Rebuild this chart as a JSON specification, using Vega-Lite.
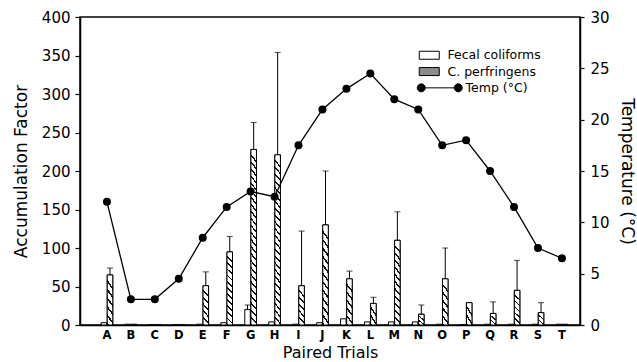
{
  "$schema": "https://vega.github.io/schema/vega-lite/v6.json",
  "width": 500,
  "height": 308,
  "autosize": "none",
  "padding": {"left": 80, "top": 17, "right": 57, "bottom": 37},
  "background": "white",
  "config": {
    "font": "DejaVu Sans",
    "view": {"stroke": "black", "strokeWidth": 1.5},
    "axis": {"grid": false, "domainColor": "black", "domainWidth": 1.5, "tickColor": "black", "tickWidth": 1.2, "labelColor": "black", "titleColor": "black", "titleFontWeight": "normal", "labelFont": "DejaVu Sans", "titleFont": "DejaVu Sans"},
    "legend": {
      "orient": "none", "legendX": 343, "legendY": 32, "padding": 0,
      "symbolSize": 100, "symbolStrokeColor": "black", "symbolStrokeWidth": 1,
      "labelFont": "DejaVu Sans", "labelFontSize": 12.5, "labelColor": "black", "labelOffset": 12, "rowPadding": 3.3
    }
  },
  "datasets": {
    "bars": [
      {"trial": "A", "series": "Fecal coliforms", "value": 3},
      {"trial": "A", "series": "C. perfringens", "value": 65, "hi": 74},
      {"trial": "B", "series": "Fecal coliforms", "value": 1},
      {"trial": "B", "series": "C. perfringens", "value": 1},
      {"trial": "C", "series": "Fecal coliforms", "value": 0.5},
      {"trial": "C", "series": "C. perfringens", "value": 0.5},
      {"trial": "D", "series": "Fecal coliforms", "value": 0.5},
      {"trial": "D", "series": "C. perfringens", "value": 0.5},
      {"trial": "E", "series": "Fecal coliforms", "value": 1},
      {"trial": "E", "series": "C. perfringens", "value": 51, "hi": 69},
      {"trial": "F", "series": "Fecal coliforms", "value": 3},
      {"trial": "F", "series": "C. perfringens", "value": 95, "hi": 115},
      {"trial": "G", "series": "Fecal coliforms", "value": 20, "hi": 26},
      {"trial": "G", "series": "C. perfringens", "value": 228, "hi": 263},
      {"trial": "H", "series": "Fecal coliforms", "value": 4},
      {"trial": "H", "series": "C. perfringens", "value": 221, "hi": 354},
      {"trial": "I", "series": "Fecal coliforms", "value": 1},
      {"trial": "I", "series": "C. perfringens", "value": 51, "hi": 122},
      {"trial": "J", "series": "Fecal coliforms", "value": 3},
      {"trial": "J", "series": "C. perfringens", "value": 130, "hi": 200},
      {"trial": "K", "series": "Fecal coliforms", "value": 8},
      {"trial": "K", "series": "C. perfringens", "value": 60, "hi": 70},
      {"trial": "L", "series": "Fecal coliforms", "value": 4},
      {"trial": "L", "series": "C. perfringens", "value": 28, "hi": 36},
      {"trial": "M", "series": "Fecal coliforms", "value": 4},
      {"trial": "M", "series": "C. perfringens", "value": 110, "hi": 147},
      {"trial": "N", "series": "Fecal coliforms", "value": 4},
      {"trial": "N", "series": "C. perfringens", "value": 14, "hi": 26},
      {"trial": "O", "series": "Fecal coliforms", "value": 1},
      {"trial": "O", "series": "C. perfringens", "value": 60, "hi": 100},
      {"trial": "P", "series": "Fecal coliforms", "value": 0.5},
      {"trial": "P", "series": "C. perfringens", "value": 29},
      {"trial": "Q", "series": "Fecal coliforms", "value": 1},
      {"trial": "Q", "series": "C. perfringens", "value": 15, "hi": 30},
      {"trial": "R", "series": "Fecal coliforms", "value": 1},
      {"trial": "R", "series": "C. perfringens", "value": 45, "hi": 84},
      {"trial": "S", "series": "Fecal coliforms", "value": 1},
      {"trial": "S", "series": "C. perfringens", "value": 16, "hi": 29},
      {"trial": "T", "series": "Fecal coliforms", "value": 1},
      {"trial": "T", "series": "C. perfringens", "value": 1}
    ],
    "temp": [
      {"trial": "A", "temp": 12}, {"trial": "B", "temp": 2.5}, {"trial": "C", "temp": 2.5},
      {"trial": "D", "temp": 4.5}, {"trial": "E", "temp": 8.5}, {"trial": "F", "temp": 11.5},
      {"trial": "G", "temp": 13}, {"trial": "H", "temp": 12.5}, {"trial": "I", "temp": 17.5},
      {"trial": "J", "temp": 21}, {"trial": "K", "temp": 23}, {"trial": "L", "temp": 24.5},
      {"trial": "M", "temp": 22}, {"trial": "N", "temp": 21}, {"trial": "O", "temp": 17.5},
      {"trial": "P", "temp": 18}, {"trial": "Q", "temp": 15}, {"trial": "R", "temp": 11.5},
      {"trial": "S", "temp": 7.5}, {"trial": "T", "temp": 6.5}
    ]
  },
  "encoding": {
    "x": {
      "field": "trial", "type": "nominal", "title": "Paired Trials",
      "scale": {"paddingInner": 0, "paddingOuter": 0.44, "align": 0.71},
      "axis": {"labelAngle": 0, "ticks": false, "labelFontWeight": "bold", "labelFontSize": 11.5, "labelPadding": 4, "titleFontSize": 16, "titlePadding": 4}
    }
  },
  "layer": [
    {
      "data": {"name": "bars"},
      "encoding": {
        "xOffset": {"field": "series", "type": "nominal", "scale": {"domain": ["Fecal coliforms", "C. perfringens"], "paddingInner": 0.1, "paddingOuter": 1}},
        "y": {
          "field": "value", "type": "quantitative", "title": "Accumulation Factor",
          "scale": {"domain": [0, 400]},
          "axis": {"values": [0, 50, 100, 150, 200, 250, 300, 350, 400], "tickSize": 5, "labelPadding": 5, "labelFontSize": 15, "titleFontSize": 17, "titlePadding": 11}
        }
      },
      "layer": [
        {
          "mark": {"type": "bar", "stroke": "black", "strokeWidth": 1},
          "encoding": {
            "fill": {
              "field": "series", "type": "nominal",
              "scale": {"domain": ["Fecal coliforms", "C. perfringens", "Temp (°C)"], "range": ["white", "#8c8c8c", "black"]},
              "legend": {
                "title": null,
                "encode": {
                  "symbols": {"update": {"shape": {"signal": "datum.value === 'Temp (°C)' ? 'M-2.4,0a0.8,0.8 0 1,0 1.6,0a0.8,0.8 0 1,0 -1.6,0Z M-0.8,0H5 M5,0a0.8,0.8 0 1,0 1.6,0a0.8,0.8 0 1,0 -1.6,0Z' : 'M-2,-0.8H2V0.8H-2Z'"}}},
                  "labels": {"update": {"dx": {"signal": "datum.value === 'Temp (°C)' ? 18 : 0"}}}
                }
              }
            }
          }
        },
        {
          "transform": [{"filter": "datum.series === 'C. perfringens' && datum.value >= 150"}],
          "mark": {"type": "bar", "stroke": "black", "strokeWidth": 1, "fill": {"gradient": "linear", "x1": 0.038, "y1": 0, "x2": 0, "y2": 1, "stops": [
            {"offset": 0, "color": "#fff"}, {"offset": 0.028, "color": "#fff"}, {"offset": 0.028, "color": "#111"}, {"offset": 0.04, "color": "#111"},
            {"offset": 0.04, "color": "#fff"}, {"offset": 0.068, "color": "#fff"}, {"offset": 0.068, "color": "#111"}, {"offset": 0.08, "color": "#111"},
            {"offset": 0.08, "color": "#fff"}, {"offset": 0.108, "color": "#fff"}, {"offset": 0.108, "color": "#111"}, {"offset": 0.12, "color": "#111"},
            {"offset": 0.12, "color": "#fff"}, {"offset": 0.148, "color": "#fff"}, {"offset": 0.148, "color": "#111"}, {"offset": 0.16, "color": "#111"},
            {"offset": 0.16, "color": "#fff"}, {"offset": 0.188, "color": "#fff"}, {"offset": 0.188, "color": "#111"}, {"offset": 0.2, "color": "#111"},
            {"offset": 0.2, "color": "#fff"}, {"offset": 0.228, "color": "#fff"}, {"offset": 0.228, "color": "#111"}, {"offset": 0.24, "color": "#111"},
            {"offset": 0.24, "color": "#fff"}, {"offset": 0.268, "color": "#fff"}, {"offset": 0.268, "color": "#111"}, {"offset": 0.28, "color": "#111"},
            {"offset": 0.28, "color": "#fff"}, {"offset": 0.308, "color": "#fff"}, {"offset": 0.308, "color": "#111"}, {"offset": 0.32, "color": "#111"},
            {"offset": 0.32, "color": "#fff"}, {"offset": 0.348, "color": "#fff"}, {"offset": 0.348, "color": "#111"}, {"offset": 0.36, "color": "#111"},
            {"offset": 0.36, "color": "#fff"}, {"offset": 0.388, "color": "#fff"}, {"offset": 0.388, "color": "#111"}, {"offset": 0.4, "color": "#111"},
            {"offset": 0.4, "color": "#fff"}, {"offset": 0.428, "color": "#fff"}, {"offset": 0.428, "color": "#111"}, {"offset": 0.44, "color": "#111"},
            {"offset": 0.44, "color": "#fff"}, {"offset": 0.468, "color": "#fff"}, {"offset": 0.468, "color": "#111"}, {"offset": 0.48, "color": "#111"},
            {"offset": 0.48, "color": "#fff"}, {"offset": 0.508, "color": "#fff"}, {"offset": 0.508, "color": "#111"}, {"offset": 0.52, "color": "#111"},
            {"offset": 0.52, "color": "#fff"}, {"offset": 0.548, "color": "#fff"}, {"offset": 0.548, "color": "#111"}, {"offset": 0.56, "color": "#111"},
            {"offset": 0.56, "color": "#fff"}, {"offset": 0.588, "color": "#fff"}, {"offset": 0.588, "color": "#111"}, {"offset": 0.6, "color": "#111"},
            {"offset": 0.6, "color": "#fff"}, {"offset": 0.628, "color": "#fff"}, {"offset": 0.628, "color": "#111"}, {"offset": 0.64, "color": "#111"},
            {"offset": 0.64, "color": "#fff"}, {"offset": 0.668, "color": "#fff"}, {"offset": 0.668, "color": "#111"}, {"offset": 0.68, "color": "#111"},
            {"offset": 0.68, "color": "#fff"}, {"offset": 0.708, "color": "#fff"}, {"offset": 0.708, "color": "#111"}, {"offset": 0.72, "color": "#111"},
            {"offset": 0.72, "color": "#fff"}, {"offset": 0.748, "color": "#fff"}, {"offset": 0.748, "color": "#111"}, {"offset": 0.76, "color": "#111"},
            {"offset": 0.76, "color": "#fff"}, {"offset": 0.788, "color": "#fff"}, {"offset": 0.788, "color": "#111"}, {"offset": 0.8, "color": "#111"},
            {"offset": 0.8, "color": "#fff"}, {"offset": 0.828, "color": "#fff"}, {"offset": 0.828, "color": "#111"}, {"offset": 0.84, "color": "#111"},
            {"offset": 0.84, "color": "#fff"}, {"offset": 0.868, "color": "#fff"}, {"offset": 0.868, "color": "#111"}, {"offset": 0.88, "color": "#111"},
            {"offset": 0.88, "color": "#fff"}, {"offset": 0.908, "color": "#fff"}, {"offset": 0.908, "color": "#111"}, {"offset": 0.92, "color": "#111"},
            {"offset": 0.92, "color": "#fff"}, {"offset": 0.948, "color": "#fff"}, {"offset": 0.948, "color": "#111"}, {"offset": 0.96, "color": "#111"},
            {"offset": 0.96, "color": "#fff"}, {"offset": 0.988, "color": "#fff"}, {"offset": 0.988, "color": "#111"}, {"offset": 1, "color": "#111"}
          ]}},
          "encoding": {}
        },
        {
          "transform": [{"filter": "datum.series === 'C. perfringens' && datum.value >= 80 && datum.value < 150"}],
          "mark": {"type": "bar", "stroke": "black", "strokeWidth": 1, "fill": {"gradient": "linear", "x1": 0.075, "y1": 0, "x2": 0, "y2": 1, "stops": [
            {"offset": 0, "color": "#fff"}, {"offset": 0.0583, "color": "#fff"}, {"offset": 0.0583, "color": "#111"}, {"offset": 0.0833, "color": "#111"},
            {"offset": 0.0833, "color": "#fff"}, {"offset": 0.1417, "color": "#fff"}, {"offset": 0.1417, "color": "#111"}, {"offset": 0.1667, "color": "#111"},
            {"offset": 0.1667, "color": "#fff"}, {"offset": 0.225, "color": "#fff"}, {"offset": 0.225, "color": "#111"}, {"offset": 0.25, "color": "#111"},
            {"offset": 0.25, "color": "#fff"}, {"offset": 0.3083, "color": "#fff"}, {"offset": 0.3083, "color": "#111"}, {"offset": 0.3333, "color": "#111"},
            {"offset": 0.3333, "color": "#fff"}, {"offset": 0.3917, "color": "#fff"}, {"offset": 0.3917, "color": "#111"}, {"offset": 0.4167, "color": "#111"},
            {"offset": 0.4167, "color": "#fff"}, {"offset": 0.475, "color": "#fff"}, {"offset": 0.475, "color": "#111"}, {"offset": 0.5, "color": "#111"},
            {"offset": 0.5, "color": "#fff"}, {"offset": 0.5583, "color": "#fff"}, {"offset": 0.5583, "color": "#111"}, {"offset": 0.5833, "color": "#111"},
            {"offset": 0.5833, "color": "#fff"}, {"offset": 0.6417, "color": "#fff"}, {"offset": 0.6417, "color": "#111"}, {"offset": 0.6667, "color": "#111"},
            {"offset": 0.6667, "color": "#fff"}, {"offset": 0.725, "color": "#fff"}, {"offset": 0.725, "color": "#111"}, {"offset": 0.75, "color": "#111"},
            {"offset": 0.75, "color": "#fff"}, {"offset": 0.8083, "color": "#fff"}, {"offset": 0.8083, "color": "#111"}, {"offset": 0.8333, "color": "#111"},
            {"offset": 0.8333, "color": "#fff"}, {"offset": 0.8917, "color": "#fff"}, {"offset": 0.8917, "color": "#111"}, {"offset": 0.9167, "color": "#111"},
            {"offset": 0.9167, "color": "#fff"}, {"offset": 0.975, "color": "#fff"}, {"offset": 0.975, "color": "#111"}, {"offset": 1, "color": "#111"}
          ]}},
          "encoding": {}
        },
        {
          "transform": [{"filter": "datum.series === 'C. perfringens' && datum.value >= 40 && datum.value < 80"}],
          "mark": {"type": "bar", "stroke": "black", "strokeWidth": 1, "fill": {"gradient": "linear", "x1": 0.155, "y1": 0, "x2": 0, "y2": 1, "stops": [
            {"offset": 0, "color": "#fff"}, {"offset": 0.1167, "color": "#fff"}, {"offset": 0.1167, "color": "#111"}, {"offset": 0.1667, "color": "#111"},
            {"offset": 0.1667, "color": "#fff"}, {"offset": 0.2833, "color": "#fff"}, {"offset": 0.2833, "color": "#111"}, {"offset": 0.3333, "color": "#111"},
            {"offset": 0.3333, "color": "#fff"}, {"offset": 0.45, "color": "#fff"}, {"offset": 0.45, "color": "#111"}, {"offset": 0.5, "color": "#111"},
            {"offset": 0.5, "color": "#fff"}, {"offset": 0.6167, "color": "#fff"}, {"offset": 0.6167, "color": "#111"}, {"offset": 0.6667, "color": "#111"},
            {"offset": 0.6667, "color": "#fff"}, {"offset": 0.7833, "color": "#fff"}, {"offset": 0.7833, "color": "#111"}, {"offset": 0.8333, "color": "#111"},
            {"offset": 0.8333, "color": "#fff"}, {"offset": 0.95, "color": "#fff"}, {"offset": 0.95, "color": "#111"}, {"offset": 1, "color": "#111"}
          ]}},
          "encoding": {}
        },
        {
          "transform": [{"filter": "datum.series === 'C. perfringens' && datum.value >= 10 && datum.value < 40"}],
          "mark": {"type": "bar", "stroke": "black", "strokeWidth": 1, "fill": {"gradient": "linear", "x1": 0.4, "y1": 0, "x2": 0, "y2": 1, "stops": [
            {"offset": 0, "color": "#fff"}, {"offset": 0.2333, "color": "#fff"}, {"offset": 0.2333, "color": "#111"}, {"offset": 0.3333, "color": "#111"},
            {"offset": 0.3333, "color": "#fff"}, {"offset": 0.5667, "color": "#fff"}, {"offset": 0.5667, "color": "#111"}, {"offset": 0.6667, "color": "#111"},
            {"offset": 0.6667, "color": "#fff"}, {"offset": 0.9, "color": "#fff"}, {"offset": 0.9, "color": "#111"}, {"offset": 1, "color": "#111"}
          ]}},
          "encoding": {}
        },
        {
          "transform": [{"filter": "isValid(datum.hi)"}],
          "mark": {"type": "rule", "color": "black", "strokeWidth": 1},
          "encoding": {"y2": {"field": "hi"}}
        },
        {
          "transform": [{"filter": "isValid(datum.hi)"}],
          "mark": {"type": "tick", "color": "black", "thickness": 1, "size": 6, "orient": "horizontal"},
          "encoding": {"y": {"field": "hi", "type": "quantitative", "title": "Accumulation Factor"}}
        }
      ]
    },
    {
      "data": {"name": "temp"},
      "encoding": {
        "y": {
          "field": "temp", "type": "quantitative", "title": "Temperature (°C)",
          "scale": {"domain": [0, 30]},
          "axis": {"orient": "right", "values": [0, 5, 10, 15, 20, 25, 30], "tickSize": 4, "labelPadding": 6, "labelFontSize": 15, "titleFontSize": 17, "titlePadding": 8}
        }
      },
      "layer": [
        {"mark": {"type": "line", "color": "black", "strokeWidth": 1.3}, "encoding": {}},
        {"mark": {"type": "circle", "size": 64, "color": "black", "opacity": 1}, "encoding": {}}
      ]
    }
  ],
  "resolve": {"scale": {"y": "independent"}}
}
